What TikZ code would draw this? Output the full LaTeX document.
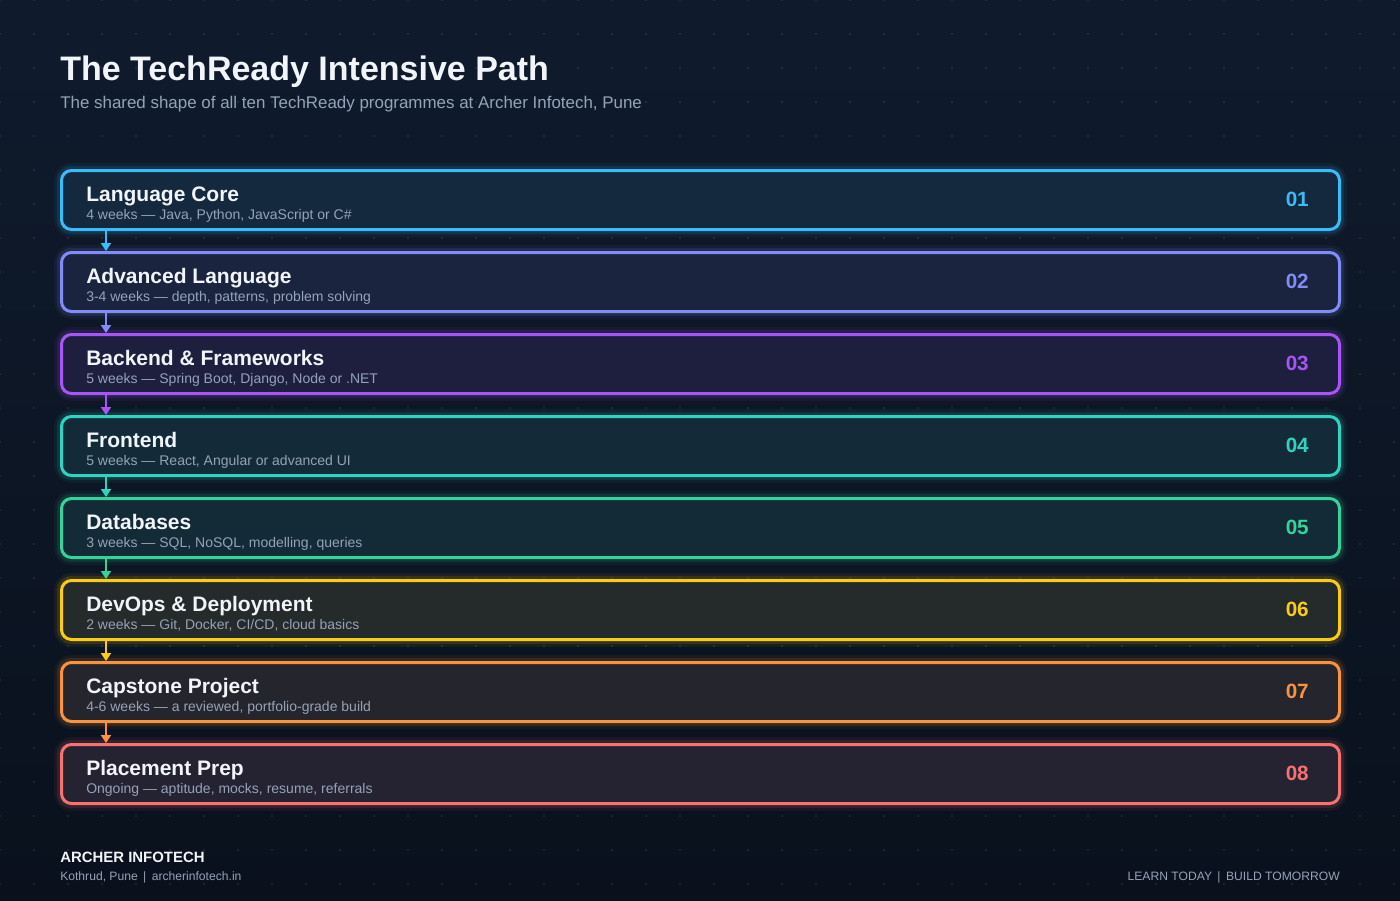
\documentclass[tikz,border=0pt]{standalone}
\usepackage{fontspec}
\setmainfont{Liberation Sans}
\usetikzlibrary{arrows.meta}
\definecolor{bgtop}{HTML}{0F1B2D}
\definecolor{bgbot}{HTML}{0A111D}
\definecolor{bgbox}{HTML}{101A2C}
\definecolor{ink}{HTML}{F1F5F9}
\definecolor{mute}{HTML}{94A3B8}
\definecolor{cA}{HTML}{38BDF8}
\definecolor{cB}{HTML}{818CF8}
\definecolor{cC}{HTML}{A855F7}
\definecolor{cD}{HTML}{2DD4BF}
\definecolor{cE}{HTML}{34D399}
\definecolor{cF}{HTML}{FACC15}
\definecolor{cG}{HTML}{FB923C}
\definecolor{cH}{HTML}{F87171}

\begin{document}
\begin{tikzpicture}[x=0.75pt,y=0.75pt,yscale=-1,xscale=1,
  stage/.style={rectangle, rounded corners=7.5pt, draw=#1, fill=#1!9!bgbox, line width=2.25pt,
    minimum width=958.5pt, minimum height=44.25pt, outer sep=0pt, inner sep=0pt,
    preaction={draw=#1, draw opacity=.06, line width=11pt},
    preaction={draw=#1, draw opacity=.12, line width=7pt}},
  stagetitle/.style={anchor=base west, inner sep=0pt, text=ink, font=\bfseries\fontsize{15.75}{18}\selectfont},
  stagenote/.style={anchor=base west, inner sep=0pt, text=mute, font=\fontsize{10.5}{12}\selectfont},
  stagenum/.style={anchor=base east, inner sep=0pt, text=#1, font=\bfseries\fontsize{15.5}{18}\selectfont},
  link/.style={draw=#1, line width=1.5pt, -{Triangle[width=7.5pt,length=6pt]}, shorten <=1pt, shorten >=1.1pt}]
\useasboundingbox (0,0) rectangle (1400,900);

%Background
\shade [top color=bgtop, bottom color=bgbot] (0,0) rectangle (1400,900);
\foreach \i in {0,...,41} \foreach \j in {0,...,26}
  \fill [white, opacity=.16] (\i*34,\j*34) circle (0.8);

% Text Node
\node [anchor=base west, inner sep=0pt, text=ink, font=\bfseries\fontsize{25.5}{30}\selectfont] (head) at (60,80) {The TechReady Intensive Path};
\node [anchor=base west, inner sep=0pt, text=mute, font=\fontsize{12.7}{15}\selectfont] (sub) at (60,108) {The shared shape of all ten TechReady programmes at Archer Infotech, Pune};

%Shape: Rounded Rect
\node [stage=cA] (s1) at (700.5,200) {};
\node [stage=cB] (s2) at (700.5,282) {};
\node [stage=cC] (s3) at (700.5,364) {};
\node [stage=cD] (s4) at (700.5,446) {};
\node [stage=cE] (s5) at (700.5,528) {};
\node [stage=cF] (s6) at (700.5,610) {};
\node [stage=cG] (s7) at (700.5,692) {};
\node [stage=cH] (s8) at (700.5,774) {};

% Text Node
\node [stagetitle] (t1) at (86,201) {Language Core};
\node [stagenote] (n1) at (86,219) {4 weeks — Java, Python, JavaScript or C\#};
\node [stagenum=cA] (k1) at (1309,206) {01};

\node [stagetitle] (t2) at (86,283) {Advanced Language};
\node [stagenote] (n2) at (86,301) {3-4 weeks — depth, patterns, problem solving};
\node [stagenum=cB] (k2) at (1309,288) {02};

\node [stagetitle] (t3) at (86,365) {Backend \& Frameworks};
\node [stagenote] (n3) at (86,383) {5 weeks — Spring Boot, Django, Node or .NET};
\node [stagenum=cC] (k3) at (1309,370) {03};

\node [stagetitle] (t4) at (86,447) {Frontend};
\node [stagenote] (n4) at (86,465) {5 weeks — React, Angular or advanced UI};
\node [stagenum=cD] (k4) at (1309,452) {04};

\node [stagetitle] (t5) at (86,529) {Databases};
\node [stagenote] (n5) at (86,547) {3 weeks — SQL, NoSQL, modelling, queries};
\node [stagenum=cE] (k5) at (1309,534) {05};

\node [stagetitle] (t6) at (86,611) {DevOps \& Deployment};
\node [stagenote] (n6) at (86,629) {2 weeks — Git, Docker, CI/CD, cloud basics};
\node [stagenum=cF] (k6) at (1309,616) {06};

\node [stagetitle] (t7) at (86,693) {Capstone Project};
\node [stagenote] (n7) at (86,711) {4-6 weeks — a reviewed, portfolio-grade build};
\node [stagenum=cG] (k7) at (1309,698) {07};

\node [stagetitle] (t8) at (86,775) {Placement Prep};
\node [stagenote] (n8) at (86,793) {Ongoing — aptitude, mocks, resume, referrals};
\node [stagenum=cH] (k8) at (1309,780) {08};

%Straight Lines
\coordinate (ax) at (106,0);
\draw [link=cA] (s1.south -| ax) -- (s2.north -| ax);
\draw [link=cB] (s2.south -| ax) -- (s3.north -| ax);
\draw [link=cC] (s3.south -| ax) -- (s4.north -| ax);
\draw [link=cD] (s4.south -| ax) -- (s5.north -| ax);
\draw [link=cE] (s5.south -| ax) -- (s6.north -| ax);
\draw [link=cF] (s6.south -| ax) -- (s7.north -| ax);
\draw [link=cG] (s7.south -| ax) -- (s8.north -| ax);

% Text Node
\node [anchor=base west, inner sep=0pt, text=ink, font=\bfseries\fontsize{11.2}{13}\selectfont] (brand) at (60,862) {ARCHER INFOTECH};
\node [anchor=base west, inner sep=0pt, text=mute, font=\fontsize{9.1}{11}\selectfont] (place) at (60,880) {Kothrud, Pune \,|\, archerinfotech.in};
\node [anchor=base east, inner sep=0pt, text=mute, font=\fontsize{9.1}{11}\selectfont] (motto) at (1340,880) {LEARN TODAY \,|\, BUILD TOMORROW};

\end{tikzpicture}
\end{document}
